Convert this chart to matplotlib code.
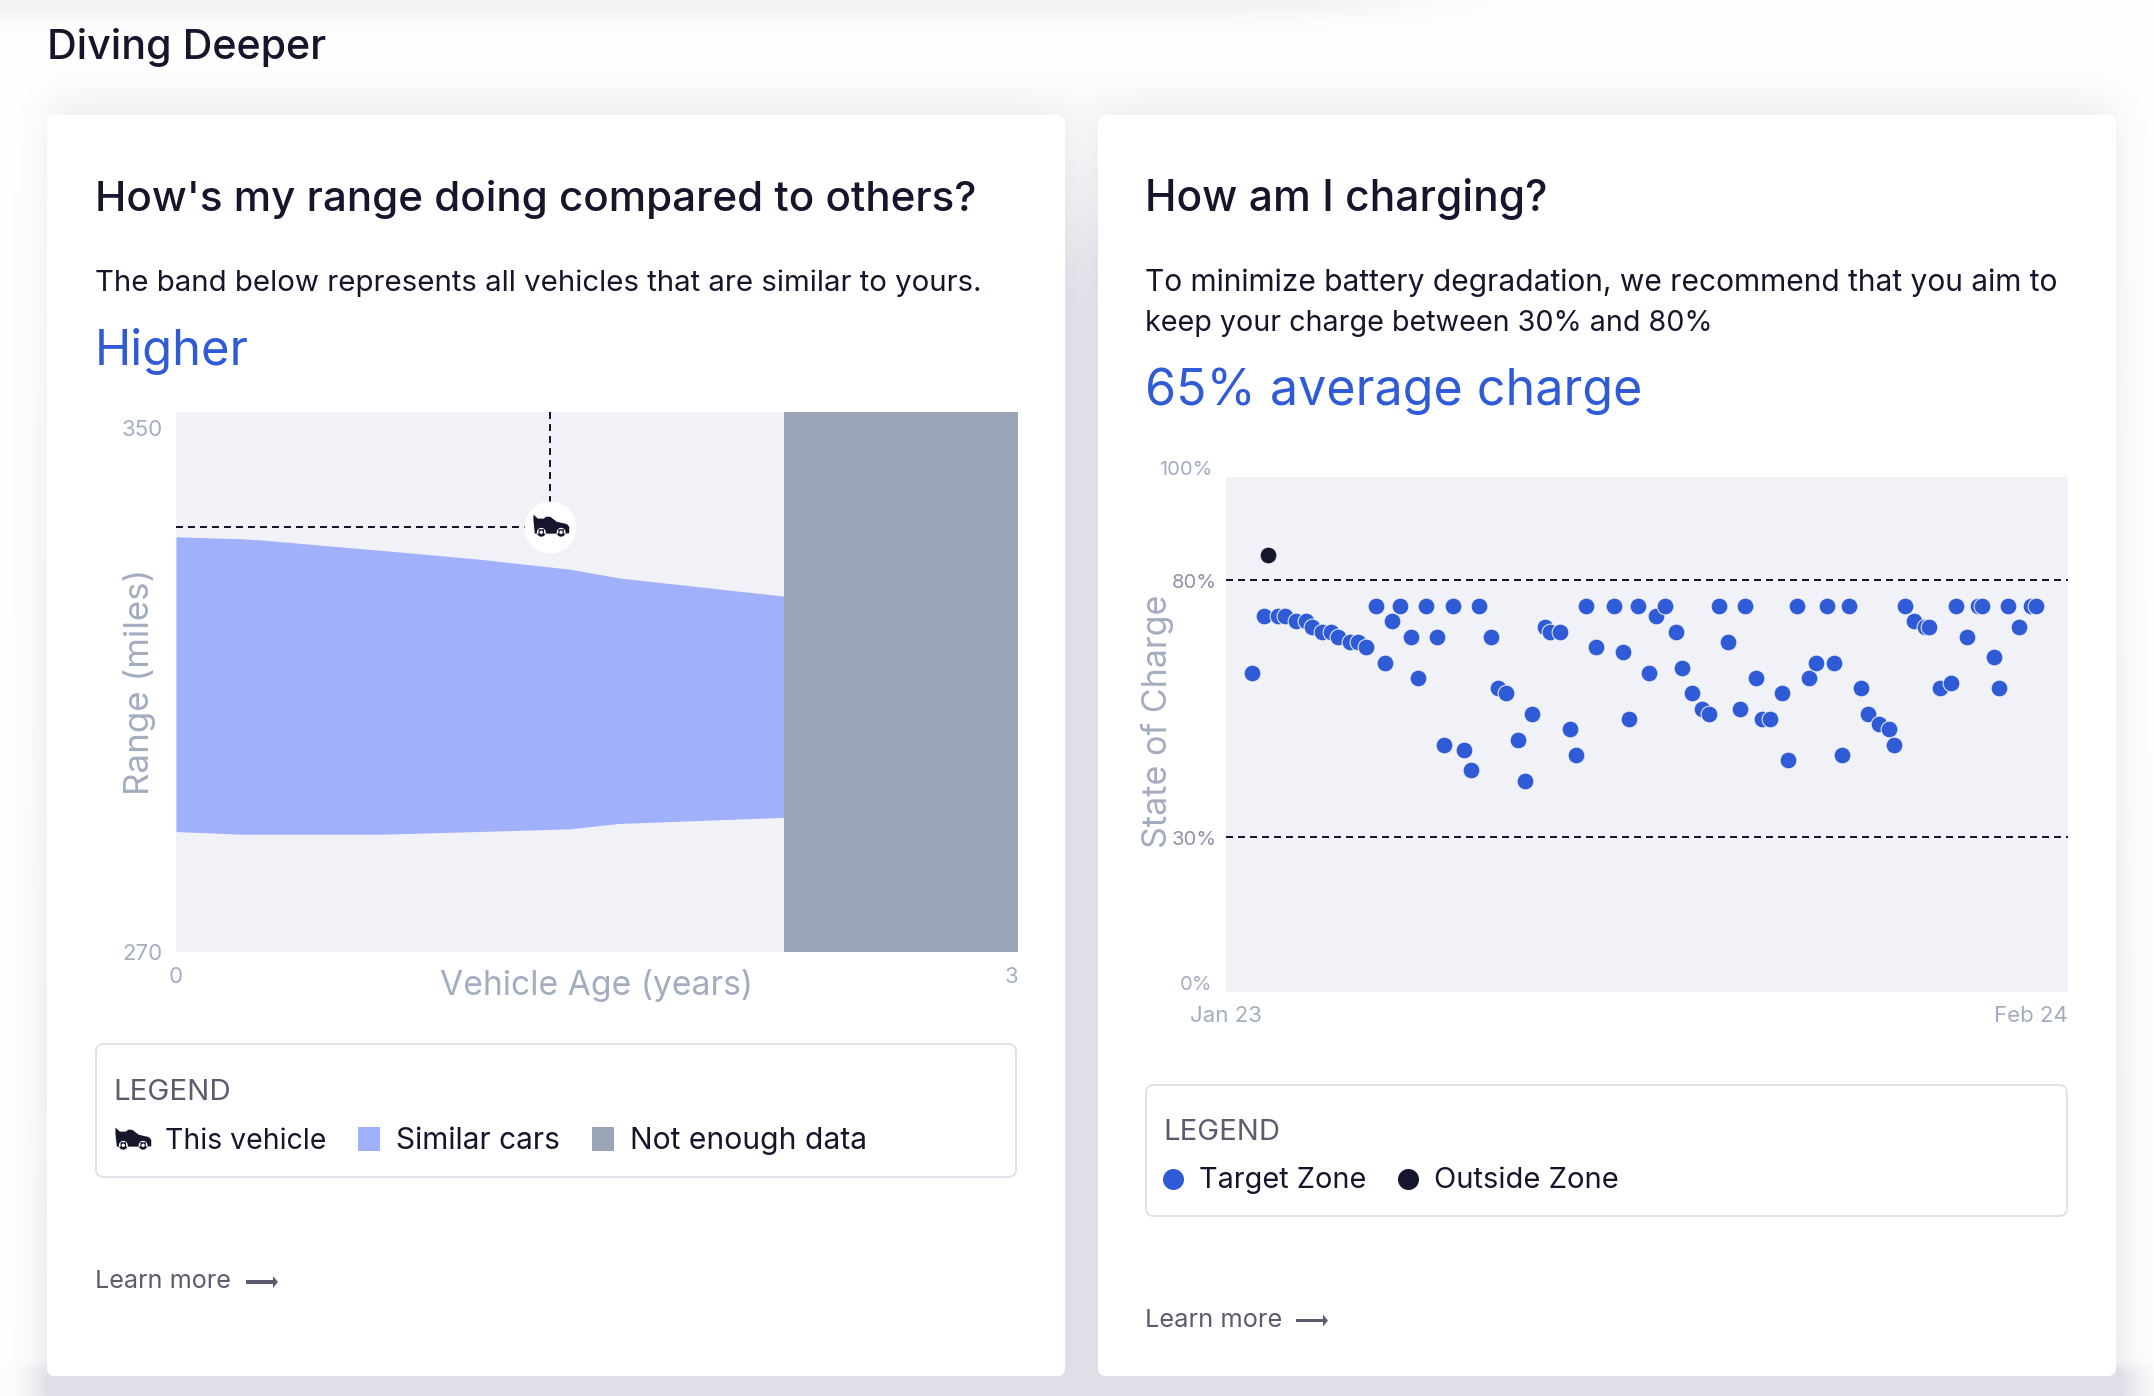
import numpy as np
import matplotlib
matplotlib.use('Agg')
import matplotlib.pyplot as plt
from matplotlib.patches import FancyBboxPatch, Rectangle, Polygon
from matplotlib.path import Path
from matplotlib.transforms import ScaledTranslation

plt.rcParams['font.family'] = ['Inter', 'DejaVu Sans']

# range band, similar vehicles
band_age = [0, 0.236, 0.312, 0.727, 1.076, 1.403, 1.578, 1.84, 2.167]
band_upper = [331.5, 331.2, 331.0, 329.5, 328.2, 326.7, 325.4, 324.2, 322.7]
band_lower = [287.8, 287.4, 287.4, 287.4, 287.8, 288.2, 289.0, 289.4, 289.9]
no_data_start = 2.167
vehicle_age = 1.333
vehicle_range = 333.0

# state of charge per charging session, days since the start of the period
target_day = [12.4, 17.7, 24.6, 27.8, 32.8, 37.5, 40.6, 45.0, 49.4, 52.8, 58.2, 61.9,
              66.0, 70.4, 74.6, 78.1, 81.8, 87.0, 90.5, 94.2, 99.4, 102.5, 106.8, 112.0,
              115.4, 119.1, 124.6, 127.8, 131.5, 137.3, 140.5, 143.9, 149.9, 152.4, 156.9,
              161.6, 164.8, 169.2, 174.0, 182.5, 186.6, 189.7, 193.8, 198.9, 202.4, 206.5,
              211.6, 214.5, 219.0, 223.7, 227.3, 231.9, 236.3, 241.6, 243.9, 249.1, 252.2,
              255.9, 261.3, 264.2, 268.7, 274.2, 277.6, 282.7, 286.0, 289.6, 293.2, 298.8,
              301.9, 307.3, 311.7, 314.0, 319.2, 323.6, 328.8, 330.8, 335.7, 340.8, 343.3,
              348.5, 353.8, 355.4, 361.4, 363.7, 367.8, 373.0, 378.4, 381.1]
target_soc = [62, 73, 73, 73, 72, 72, 71, 70, 70, 69, 68, 68,
              67, 75, 64, 72, 75, 69, 61, 75, 69, 48, 75, 47,
              43, 75, 69, 59, 58, 49, 41, 54, 71, 70, 70,
              51, 46, 75, 67, 75, 66, 53, 75, 62, 73, 75,
              70, 63, 58, 55, 54, 75, 68, 55, 75, 61, 53,
              53, 58, 45, 75, 61, 64, 75, 64, 46, 75, 59,
              54, 52, 51, 48, 75, 72, 71, 71, 59, 60, 75,
              69, 75, 75, 65, 59, 75, 71, 75, 75]
outside_day = [19.75]
outside_soc = [85]
total_days = 396
soc_limits = [30, 80]

INK = '#15162b'
BLUE = '#2f5bd7'
MUTED = '#a3adc0'
GREY_TEXT = '#5b5d6e'
PANEL = '#f1f2f8'
BAND = '#a1b0fb'
NO_DATA = '#9aa6b8'


def px_pt(v):
    return v * 72 / 100


fig = plt.figure(figsize=(21.54, 13.96), dpi=100, facecolor='white')
page = fig.add_axes([0, 0, 1, 1], zorder=0)
page.axis('off')

# soft shadows behind the cards, getting stronger towards the bottom of the page
yy, xx = np.mgrid[0:1396, 0:2154]


def soft(v, s):
    return 1 / (1 + np.exp(-np.clip(v / s, -30, 30)))


cards = [(47, 1065), (1098, 2116)]
ramp = 0.55 + 0.55 * yy / 1396
shade = np.zeros(xx.shape)
for x0, x1 in cards:
    shade += ramp * soft(xx - x0, 12) * soft(x1 - xx, 12) * soft(yy - 100, 14) * soft(1420 - yy, 14)
shade += 0.75 * soft(xx - 1055, 3) * soft(1108 - xx, 3) * soft(yy - 210, 40)
shade += 0.8 * soft(yy - 1366, 3) * soft(xx - 40, 14) * soft(2135 - xx, 14)
shade += 0.5 * soft(14 - yy, 7) * soft(1400 - xx, 50)
shade = np.clip(shade, 0, 1)
rgb = np.stack([1 - shade * c for c in (0.125, 0.122, 0.094)], axis=2)
page.imshow(rgb, extent=(0, 2154, 1396, 0), interpolation='nearest', aspect='auto')
page.set_xlim(0, 2154)
page.set_ylim(1396, 0)

for x0, x1 in cards:
    page.add_patch(FancyBboxPatch((x0 + 8, 115 + 8), x1 - x0 - 16, 1376 - 115 - 16,
                                  boxstyle='round,pad=8,rounding_size=8', fc='white', ec='none'))

renderer = fig.canvas.get_renderer()


def fit(t, length):
    # scale a text until it spans the wanted number of pixels
    box = t.get_window_extent(renderer)
    t.set_fontsize(t.get_fontsize() * length / max(box.width, box.height))


def put(s, x0, x1, base, color=INK, weight='normal'):
    t = page.text(x0, base, s, color=color, fontsize=20, va='baseline', ha='left', fontweight=weight)
    fit(t, x1 - x0)
    return t


# car icon, origin at its visual centre
body = [(-50, 38), (-37, 26), (-20, 26), (-12, 32), (0, 31), (18, 17), (48, 10), (55, 2), (55, -17),
        (43, -18), (39, -18), (39, -5), (23, -5), (23, -18), (-19, -18), (-19, -5), (-35, -5), (-35, -18),
        (-46, -18), (-50, 20), (-50, 38)]


def ring(cx, cy, r, clockwise=False):
    a = np.linspace(0, 2 * np.pi, 25)
    if clockwise:
        a = a[::-1]
    return Path(np.column_stack([cx + r * np.cos(a), cy + r * np.sin(a)]), closed=True)


car = Path.make_compound_path(Path(body, closed=True),
                              ring(-27, -14, 13), ring(-27, -14, 5, True),
                              ring(31, -14, 13), ring(31, -14, 5, True))
CAR_SIZE = px_pt(37.5)


def arrow(x0, x1, y):
    page.add_patch(Rectangle((x0, y - 1.7), x1 - x0 - 3, 3.4, fc=GREY_TEXT, ec='none'))
    page.add_patch(Polygon([(x1 - 5, y - 6), (x1, y), (x1 - 5, y + 6)], fc=GREY_TEXT, ec='none'))


def legend_box(x0, x1, y0, y1):
    page.add_patch(FancyBboxPatch((x0 + 8, y0 + 8), x1 - x0 - 16, y1 - y0 - 16,
                                  boxstyle='round,pad=8,rounding_size=8',
                                  fc='white', ec='#e2e3ea', lw=px_pt(2)))


# headings
put('Diving Deeper', 47, 326, 59, weight='medium')
put("How's my range doing compared to others?", 95, 975, 211, weight='medium')
put('The band below represents all vehicles that are similar to yours.', 95, 983, 291)
put('Higher', 95, 249, 365, color=BLUE)
put('How am I charging?', 1145, 1546, 211, weight='medium')
put('To minimize battery degradation, we recommend that you aim to', 1145, 2060, 291)
put('keep your charge between 30% and 80%', 1145, 1711, 331)
put('65% average charge', 1145, 1642, 405, color=BLUE)

# legend, left card
legend_box(96, 1016, 1044, 1177)
put('LEGEND', 113, 231, 1100, color=GREY_TEXT)
page.plot([132], [1140], marker=car, ms=CAR_SIZE, color=INK, mew=0, ls='none')
put('This vehicle', 165, 326, 1149)
page.add_patch(Rectangle((358, 1127), 22, 24, fc=BAND, ec='none'))
put('Similar cars', 396, 560, 1149)
page.add_patch(Rectangle((592, 1127), 22, 24, fc=NO_DATA, ec='none'))
put('Not enough data', 630, 867, 1149)
put('Learn more', 95, 231, 1288, color=GREY_TEXT)
arrow(246, 278, 1282)

# legend, right card
legend_box(1146, 2067, 1085, 1216)
put('LEGEND', 1163, 1280, 1140, color=GREY_TEXT)
page.plot([1173], [1178.5], 'o', ms=px_pt(21), color=BLUE, mew=0)
put('Target Zone', 1199, 1366, 1188)
page.plot([1408], [1178.5], 'o', ms=px_pt(21), color=INK, mew=0)
put('Outside Zone', 1434, 1618, 1188)
put('Learn more', 1145, 1282, 1327, color=GREY_TEXT)
arrow(1296, 1328, 1320.5)


def chart_axes(x0, x1, y0, y1):
    ax = fig.add_axes([x0 / 2154, 1 - y1 / 1396, (x1 - x0) / 2154, (y1 - y0) / 1396], zorder=2)
    ax.set_facecolor(PANEL)
    for s in ax.spines.values():
        s.set_visible(False)
    ax.tick_params(length=0, labelsize=14.5, labelcolor=MUTED)
    return ax


def nudge(label, dx, dy):
    label.set_transform(label.get_transform() + ScaledTranslation(px_pt(dx) / 72, -px_pt(dy) / 72, fig.dpi_scale_trans))


# range chart
ax1 = chart_axes(176, 1018, 412, 951.6)
ax1.set_xlim(0, 3)
ax1.set_ylim(270, 350)
ax1.fill_between(band_age, band_lower, band_upper, color=BAND, lw=0, zorder=2)
ax1.axvspan(no_data_start, 3, color=NO_DATA, lw=0, zorder=3)
dash = (0, (3.5, 2.5))
ax1.plot([0, vehicle_age], [vehicle_range, vehicle_range], color=INK, lw=px_pt(2), ls=dash, zorder=4)
ax1.plot([vehicle_age, vehicle_age], [vehicle_range, 350], color=INK, lw=px_pt(2), ls=dash, zorder=4)
ax1.plot([vehicle_age], [vehicle_range], 'o', ms=px_pt(52), color='white', mew=0, zorder=5)
ax1.plot([vehicle_age], [vehicle_range], marker=car, ms=CAR_SIZE, color=INK, mew=0, ls='none', zorder=6)
ax1.set_xticks([0, 3], ['0', '3'])
ax1.set_yticks([270, 350], ['270', '350'])
ax1.tick_params(labelsize=16)
ax1.tick_params(axis='y', pad=px_pt(13))
ax1.tick_params(axis='x', pad=px_pt(15))
ax1.get_xticklabels()[1].set_ha('right')
nudge(ax1.get_yticklabels()[1], 0, 16)
xl = ax1.set_xlabel('Vehicle Age (years)', color=MUTED, fontsize=20, va='baseline')
ax1.xaxis.set_label_coords(0.5, -(995 - 951.6) / 539.6)
fit(xl, 312)
yl = ax1.set_ylabel('Range (miles)', color=MUTED, fontsize=20, va='center')
ax1.yaxis.set_label_coords((140 - 176) / 842, (951.6 - 682) / 539.6)
fit(yl, 226)

# charge chart
ax2 = chart_axes(1226, 2068, 477.5, 991.5)
ax2.set_xlim(0, total_days)
ax2.set_ylim(0, 100)
for level in soc_limits:
    ax2.axhline(level, color=INK, lw=px_pt(2), ls=dash, zorder=2)
ax2.scatter(target_day, target_soc, s=px_pt(16.8) ** 2, color=BLUE, edgecolors=PANEL, linewidths=px_pt(1), zorder=3)
ax2.scatter(outside_day, outside_soc, s=px_pt(16.8) ** 2, color=INK, edgecolors=PANEL, linewidths=px_pt(1), zorder=3)
ax2.set_xticks([0, total_days], ['Jan 23', 'Feb 24'])
ax2.set_yticks([0, 30, 80, 100], ['0%', '30%', '80%', '100%'])
ax2.tick_params(axis='y', pad=px_pt(14))
ax2.tick_params(axis='x', pad=px_pt(15))
ax2.get_xticklabels()[1].set_ha('right')
for lab in ax2.get_xticklabels():
    lab.set_fontsize(16)
ylabels = ax2.get_yticklabels()
nudge(ylabels[0], 0, -9)
nudge(ylabels[3], 0, -9)
for lab in ylabels[1:3]:
    lab.set_color('#8d92a8')
    nudge(lab, 5, 1)
yl2 = ax2.set_ylabel('State of Charge', color=MUTED, fontsize=20, va='center')
ax2.yaxis.set_label_coords((1158 - 1226) / 842, (991.5 - 721) / 514)
fit(yl2, 253)

fig.savefig('out.png', dpi=100, facecolor='white')
